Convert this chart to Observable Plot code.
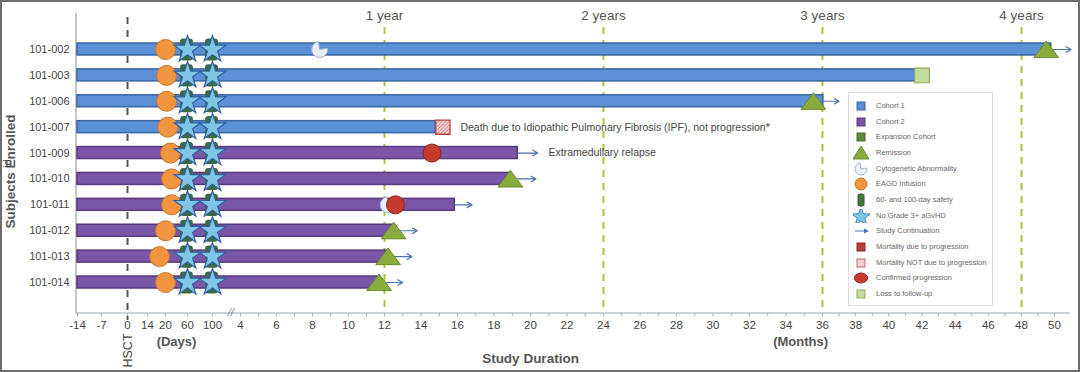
<!DOCTYPE html>
<html><head><meta charset="utf-8">
<script src="https://cdn.jsdelivr.net/npm/d3@7"></script>
<script src="https://cdn.jsdelivr.net/npm/@observablehq/plot@0.6"></script>
<style>
body{margin:0;background:#fff;font-family:"Liberation Sans",Arial,sans-serif;}
#wrap{position:relative;width:1080px;height:372px;overflow:hidden;background:#fff;}
#chart{position:absolute;left:0;top:0;}
#frame{position:absolute;left:0;top:0;width:1080px;height:372px;box-sizing:border-box;border:2px solid #6e6e6e;pointer-events:none;}
#legend{position:absolute;left:848px;top:92px;width:145px;height:214px;box-sizing:border-box;border:1px solid #dedede;background:#fff;}
.li{position:absolute;left:0;width:140px;height:14px;font-size:7.5px;color:#666;}
.li svg{position:absolute;left:4px;top:0;}
.li span{position:absolute;left:27px;top:2px;white-space:nowrap;}
</style></head>
<body>
<div id="wrap"><div id="chart"></div><div id="legend"></div><div id="frame"></div></div>
<script>
// ---- data ----
const subjects = ["101-002","101-003","101-006","101-007","101-009","101-010","101-011","101-012","101-013","101-014"];
const cohorts = [1,1,1,1,2,2,2,2,2,2];
const startDay = -14;
const barEndMonth = [49.8, 41.6, 36.05, 14.8, 19.3, 18.9, 15.85, 12.45, 12.1, 11.6];
const continuationEndMonth = [51.0, null, 37.0, null, 20.4, 20.3, 16.8, 13.8, 13.5, 13.0];
const eagdDay = [20, 22, 22, 24, 29, 31, 31, 20, 18, 20];
const safetyDays = [60, 100];
const aGvHDDays = [60, 100];
const remissionIds = ["101-002","101-006","101-010","101-012","101-013","101-014"];
const remissionMonths = [49.5, 35.5, 18.9, 12.5, 12.2, 11.7];
const cytoIds = ["101-002","101-011"];
const cytoMonths = [8.4, 12.2];
const progressionIds = ["101-009","101-011"];
const progressionMonths = [14.6, 12.6];
const deathNotProgIds = ["101-007"];
const deathNotProgMonths = [15.2];
const lossIds = ["101-003"];
const lossMonths = [42.0];
const noteIds = ["101-007","101-009"];
const noteMonths = [16.16, 20.99];
const noteTexts = ["Death due to Idiopathic Pulmonary Fibrosis (IPF), not progression*", "Extramedullary relapse"];
const yearMonths = [12, 24, 36, 48];
const yearLabels = ["1 year", "2 years", "3 years", "4 years"];
const dayTicks = [-14, -7, 0, 14, 20, 60, 100];
const monthTicks = [4,6,8,10,12,14,16,18,20,22,24,26,28,30,32,34,36,38,40,42,44,46,48,50];
const minorMonthTicks = [5,7,9,11,13,15,17,19,21,23,25,27,29,31,33,35,37,39,41,43,45,47,49];

// ---- derived tables ----
const D = d => d / 30; // days expressed in month units on the broken axis
const rows = subjects.map((id, i) => ({id, cohort: cohorts[i], start: D(startDay), end: barEndMonth[i], cont: continuationEndMonth[i], eagd: D(eagdDay[i])}));
const pts = (ids, ms) => ids.map((id, i) => ({id, m: ms[i]}));
const remission = pts(remissionIds, remissionMonths);
const cyto = pts(cytoIds, cytoMonths);
const prog = pts(progressionIds, progressionMonths);
const deathNP = pts(deathNotProgIds, deathNotProgMonths);
const loss = pts(lossIds, lossMonths);
const notes = noteIds.map((id, i) => ({id, m: noteMonths[i], t: noteTexts[i]}));
const safety = subjects.flatMap(id => safetyDays.map(d => ({id, m: D(d)})));
const stars = subjects.flatMap(id => aGvHDDays.map(d => ({id, m: D(d)})));
const years = yearMonths.map((m, i) => ({m, t: yearLabels[i]}));
const xTicks = [...dayTicks.map(D), ...monthTicks];

// ---- custom symbols ----
const tri = {draw(ctx, size){const r = Math.sqrt(size/Math.PI); ctx.moveTo(0,-0.9*r); ctx.lineTo(1.3*r,0.85*r); ctx.lineTo(-1.3*r,0.85*r); ctx.closePath();}};
const pac = {draw(ctx, size){const r = Math.sqrt(size/Math.PI); const a0 = -0.17, a1 = 4.54; ctx.moveTo(0,0); ctx.lineTo(r*Math.cos(a0), r*Math.sin(a0)); ctx.arc(0,0,r,a0,a1); ctx.closePath();}};
const tall = {draw(ctx, size){const r = Math.sqrt(size/Math.PI); const w = 0.75*r, h = 1.3*r, c = 0.35*r;
  ctx.moveTo(-w+c,-h); ctx.lineTo(w-c,-h); ctx.quadraticCurveTo(w,-h,w,-h+c); ctx.lineTo(w,h-c); ctx.quadraticCurveTo(w,h,w-c,h);
  ctx.lineTo(-w+c,h); ctx.quadraticCurveTo(-w,h,-w,h-c); ctx.lineTo(-w,-h+c); ctx.quadraticCurveTo(-w,-h,-w+c,-h); ctx.closePath();}};

const defs = () => {
  const s = d3.create("svg:defs");
  const p = s.append("pattern").attr("id","hatch").attr("width",2.5).attr("height",2.5).attr("patternUnits","userSpaceOnUse").attr("patternTransform","rotate(45)");
  p.append("rect").attr("width",2.5).attr("height",2.5).attr("fill","#f4d4d4");
  p.append("line").attr("x1",0).attr("y1",0).attr("x2",0).attr("y2",2.5).attr("stroke","#c0504d").attr("stroke-width",1);
  return s.node();
};
const axisLines = (index, scales, values, dim) => {
  const g = d3.create("svg:path")
    .attr("d", `M${dim.marginLeft},${dim.marginTop}V${dim.height - dim.marginBottom}H${dim.width - dim.marginRight}`)
    .attr("fill","none").attr("stroke","#9aa3ad").attr("stroke-width",1.2);
  return g.node();
};

const chart = Plot.plot({
  width: 1080, height: 372,
  marginTop: 13, marginBottom: 59, marginLeft: 76, marginRight: 10,
  style: {fontFamily: "'Liberation Sans', Arial, sans-serif", background: "transparent", color: "#444"},
  x: {type: "linear", domain: [...dayTicks.map(D), 4, 12, 24, 36, 48, 50],
      range: [77, 101, 127, 147, 165, 187, 212, 240, 384, 603, 822, 1021, 1054], axis: null},
  y: {type: "band", domain: subjects, range: [43, 288], paddingInner: 0.537, paddingOuter: 0, round: false, axis: null},
  marks: [
    defs,
    axisLines,
    Plot.axisX({ticks: xTicks, tickSize: 3, tickPadding: 4, fontSize: 11.5, stroke: "#a7b0bb", fill: "#444",
      tickFormat: v => v < 4 ? String(Math.round(v * 30)) : String(v)}),
    Plot.axisX({ticks: minorMonthTicks, tickSize: 3, stroke: "#a7b0bb", tickFormat: () => ""}),
    Plot.axisY({tickSize: 0, tickPadding: 7, fontSize: 11, fill: "#444"}),
    Plot.ruleX([0], {stroke: "#555", strokeWidth: 2, strokeDasharray: "7,6", insetTop: 4, insetBottom: -7}),
    Plot.ruleX(years, {x: "m", stroke: "#a9c540", strokeWidth: 2, strokeDasharray: "7,6", insetTop: 14}),
    Plot.text(years, {x: "m", text: "t", frameAnchor: "top", lineAnchor: "middle", dy: 2, fontSize: 13.5, fill: "#555"}),
    Plot.barX(rows.filter(d => d.cohort === 1), {x1: "start", x2: "end", y: "id", fill: "#5b8fd6", stroke: "#3b65a3", strokeWidth: 1.5}),
    Plot.barX(rows.filter(d => d.cohort === 2), {x1: "start", x2: "end", y: "id", fill: "#7a56a6", stroke: "#57397f", strokeWidth: 1.5}),
    Plot.arrow(rows.filter(d => d.cont != null), {x1: "end", x2: "cont", y1: "id", y2: "id", stroke: "#4d73ad", strokeWidth: 1.2, headLength: 7}),
    Plot.dot(cyto, {x: "m", y: "id", symbol: pac, r: 8, fill: "#e8eef8", stroke: "#a3b6d6", strokeWidth: 1}),
    Plot.dot(safety, {x: "m", y: "id", symbol: tall, r: 8.5, fill: "#3a6a45", stroke: "none", dx: -1}),
    Plot.dot(rows, {x: "eagd", y: "id", r: 10, fill: "#f29540", stroke: "#c8742a", strokeWidth: 1}),
    Plot.dot(stars, {x: "m", y: "id", symbol: "star", r: 8.4, fill: "#7fc6e6", stroke: "#34609e", strokeWidth: 1.2}),
    Plot.dot(remission, {x: "m", y: "id", symbol: tri, r: 9.5, fill: "#8aac3c", stroke: "#6b8b2c", strokeWidth: 1}),
    Plot.dot(loss, {x: "m", y: "id", symbol: "square", r: 8.3, fill: "#c4dc9c", stroke: "#8eac5a", strokeWidth: 1.2}),
    Plot.dot(deathNP, {x: "m", y: "id", symbol: "square", r: 8, fill: "url(#hatch)", stroke: "#b9433f", strokeWidth: 1.3}),
    Plot.dot(prog, {x: "m", y: "id", r: 9, fill: "#c43b30", stroke: "#8d2620", strokeWidth: 1}),
    Plot.text(notes, {x: "m", y: "id", text: "t", textAnchor: "start", fontSize: 10.5, fill: "#444"}),
    Plot.text(["//"], {x: () => (D(100) + 4) / 2 + 0.1, text: d => d, frameAnchor: "bottom", lineAnchor: "middle", dy: -1, fontSize: 11, fontStyle: "italic", fill: "#6b7fa8"}),
    Plot.text(["HSCT"], {x: () => 0, text: d => d, frameAnchor: "bottom", lineAnchor: "middle", textAnchor: "middle", dy: 37, rotate: -90, fontSize: 12.5, fill: "#444"}),
    Plot.text(["(Days)"], {x: () => D(40), text: d => d, frameAnchor: "bottom", lineAnchor: "middle", dy: 28, fontSize: 13, fontWeight: "bold", fill: "#555"}),
    Plot.text(["(Months)"], {x: () => 34.8, text: d => d, frameAnchor: "bottom", lineAnchor: "middle", dy: 28, fontSize: 13, fontWeight: "bold", fill: "#555"}),
    Plot.text(["Study Duration"], {x: () => 20, text: d => d, frameAnchor: "bottom", lineAnchor: "middle", dy: 45, fontSize: 13.5, fontWeight: "bold", fill: "#555"}),
    Plot.text(["Subjects Enrolled"], {text: d => d, frameAnchor: "left", textAnchor: "middle", lineAnchor: "middle", dx: -66, dy: 8, rotate: -90, fontSize: 13.5, fontWeight: "bold", fill: "#555"})
  ]
});
document.getElementById("chart").appendChild(chart);

// ---- legend ----
const legendItems = [
  ["Cohort 1", `<rect x="4" y="3" width="8" height="8" fill="#5b8fd6" stroke="#3b65a3"/>`],
  ["Cohort 2", `<rect x="4" y="3" width="8" height="8" fill="#7a56a6" stroke="#57397f"/>`],
  ["Expansion Cohort", `<rect x="4" y="3" width="8" height="8" fill="#5e8c3a" stroke="#486e2b"/>`],
  ["Remission", `<path d="M8,0 L16,13 L0,13 Z" fill="#8aac3c" stroke="#6b8b2c"/>`],
  ["Cytogenetic Abnormality", `<path d="M8,7 L13.9,6 A6,6 0 1 1 7,1 Z" fill="#eef3fa" stroke="#8aa4cf" stroke-width="0.8"/>`],
  ["EAGD Infusion", `<circle cx="8" cy="7" r="6" fill="#f29540" stroke="#c8742a"/>`],
  ["60- and 100-day safety", `<rect x="5" y="1" width="6" height="12" rx="1.5" fill="#3f7a32" stroke="#2e5a24"/>`],
  ["No Grade 3+ aGvHD", `<path transform="translate(8,8)" d="${d3.symbol(d3.symbolStar, 120)()}" fill="#7fc6e6" stroke="#3c6aa6" stroke-width="0.8"/>`],
  ["Study Continuation", `<line x1="2" y1="7" x2="13" y2="7" stroke="#4d73ad" stroke-width="1"/><path d="M16,7 L11,4.5 L11,9.5 Z" fill="#4d73ad"/>`],
  ["Mortality due to progression", `<rect x="4" y="3" width="8" height="8" fill="#b83d3d" stroke="#8d2620"/>`],
  ["Mortality NOT due to progression", `<rect x="4" y="3" width="8" height="8" fill="#f2d0d4" stroke="#b96a70"/>`],
  ["Confirmed progression", `<ellipse cx="8" cy="7" rx="6.5" ry="5" fill="#c43b30" stroke="#8d2620"/>`],
  ["Loss to follow-up", `<rect x="4" y="3" width="8" height="8" fill="#c4dc9c" stroke="#8eac5a"/>`]
];
const lg = document.getElementById("legend");
legendItems.forEach(([label, icon], i) => {
  const div = document.createElement("div");
  div.className = "li";
  div.style.top = (6 + i * 15.65) + "px";
  div.innerHTML = `<svg width="17" height="14" viewBox="0 0 17 14">${icon}</svg><span>${label}</span>`;
  lg.appendChild(div);
});
</script>
</body></html>
